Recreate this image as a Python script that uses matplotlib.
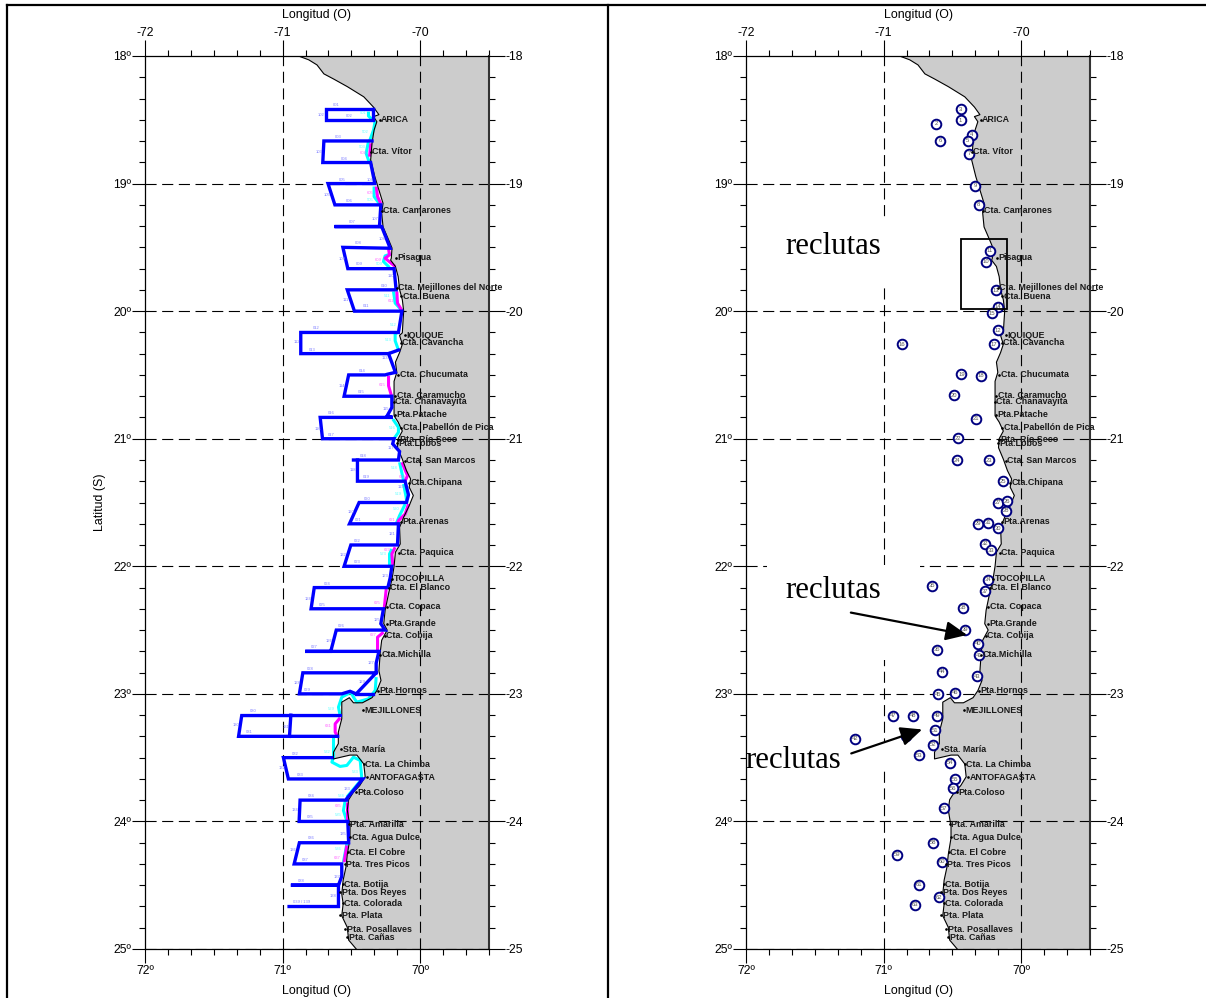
#!/usr/bin/env python3
"""Two map panels of the northern Chilean coast: survey transects and recruit stations."""
import numpy as np
import matplotlib
matplotlib.use('Agg')
import matplotlib.pyplot as plt
from matplotlib.lines import Line2D
from matplotlib.patches import Rectangle

plt.rcParams['font.family'] = ['Liberation Sans', 'DejaVu Sans']

COAST = [
    (-70.885, 18.0), (-70.81, 18.03), (-70.75, 18.07), (-70.70, 18.14), (-70.63, 18.18), (-70.53, 18.24),
    (-70.41, 18.32), (-70.34, 18.40), (-70.30, 18.46), (-70.34, 18.475), (-70.315, 18.515), (-70.335, 18.58),
    (-70.35, 18.68), (-70.36, 18.815), (-70.33, 18.945), (-70.30, 19.05), (-70.27, 19.155), (-70.28, 19.23),
    (-70.27, 19.34), (-70.23, 19.44), (-70.205, 19.505), (-70.21, 19.585), (-70.215, 19.60), (-70.18, 19.65),
    (-70.16, 19.73), (-70.15, 19.83), (-70.13, 19.91), (-70.12, 20.00), (-70.125, 20.08), (-70.13, 20.17),
    (-70.15, 20.19), (-70.13, 20.26), (-70.15, 20.325), (-70.18, 20.40), (-70.17, 20.48), (-70.19, 20.55),
    (-70.19, 20.65), (-70.19, 20.755), (-70.19, 20.82), (-70.16, 20.87), (-70.13, 20.94), (-70.16, 21.0),
    (-70.165, 21.07), (-70.13, 21.16), (-70.10, 21.25), (-70.07, 21.315), (-70.08, 21.38), (-70.05, 21.445),
    (-70.08, 21.525), (-70.12, 21.615), (-70.15, 21.695), (-70.145, 21.825), (-70.18, 21.89), (-70.19, 22.0),
    (-70.205, 22.10), (-70.23, 22.215), (-70.255, 22.345), (-70.265, 22.45), (-70.24, 22.50), (-70.28, 22.58),
    (-70.29, 22.67), (-70.30, 22.82), (-70.285, 22.895), (-70.315, 22.975), (-70.35, 23.03), (-70.42, 23.07),
    (-70.485, 23.07), (-70.515, 23.03), (-70.57, 23.065), (-70.57, 23.195), (-70.595, 23.30), (-70.595, 23.39),
    (-70.63, 23.457), (-70.63, 23.51), (-70.51, 23.48), (-70.46, 23.48), (-70.41, 23.55), (-70.40, 23.65),
    (-70.44, 23.72), (-70.485, 23.77), (-70.52, 23.83), (-70.53, 23.91), (-70.51, 24.04), (-70.51, 24.13),
    (-70.53, 24.26), (-70.54, 24.36), (-70.56, 24.46), (-70.57, 24.57), (-70.56, 24.645), (-70.57, 24.74),
    (-70.53, 24.83), (-70.52, 24.93), (-70.465, 25.0),
]

BLUE_TRACKS = [
    [(-70.34, 18.415), (-70.686, 18.415), (-70.686, 18.505), (-70.34, 18.505), (-70.34, 18.415)],
    [(-70.35, 18.666), (-70.70, 18.666), (-70.708, 18.835), (-70.36, 18.835), (-70.33, 19.0), (-70.67, 19.0),
     (-70.62, 19.167), (-70.286, 19.167), (-70.296, 19.337), (-70.623, 19.337), (-70.28, 19.337), (-70.218, 19.507),
     (-70.562, 19.50), (-70.526, 19.667), (-70.19, 19.667), (-70.175, 19.833), (-70.53, 19.833), (-70.478, 20.0),
     (-70.133, 20.0), (-70.158, 20.167), (-70.868, 20.167), (-70.868, 20.333), (-70.23, 20.333), (-70.158, 20.305)],
    [(-70.23, 20.333), (-70.18, 20.48), (-70.24, 20.495), (-70.255, 20.5), (-70.52, 20.5), (-70.553, 20.667),
     (-70.206, 20.667), (-70.206, 20.755), (-70.24, 20.82), (-70.20, 20.833), (-70.727, 20.833), (-70.71, 21.0),
     (-70.19, 21.0), (-70.20, 21.04), (-70.15, 21.10), (-70.158, 21.167), (-70.485, 21.167)],
    [(-70.456, 21.167), (-70.456, 21.333), (-70.11, 21.333), (-70.085, 21.44), (-70.10, 21.5), (-70.444, 21.5),
     (-70.514, 21.667), (-70.158, 21.667), (-70.165, 21.833), (-70.504, 21.833), (-70.553, 22.0), (-70.206, 22.0),
     (-70.218, 22.09), (-70.235, 22.167), (-70.77, 22.167), (-70.793, 22.333), (-70.267, 22.333), (-70.286, 22.45),
     (-70.255, 22.5), (-70.61, 22.5), (-70.65, 22.667), (-70.836, 22.667), (-70.30, 22.667), (-70.32, 22.76),
     (-70.32, 22.835), (-70.853, 22.835), (-70.878, 23.0), (-70.57, 23.0), (-70.51, 22.98), (-70.465, 23.0),
     (-70.32, 22.835)],
    [(-70.465, 23.0), (-70.34, 23.0)],
    [(-70.58, 23.17), (-71.297, 23.17), (-71.32, 23.333), (-70.6, 23.333)],
    [(-70.94, 23.167), (-70.95, 23.333)],
    [(-70.642, 23.5), (-70.994, 23.5), (-70.958, 23.667), (-70.417, 23.667), (-70.533, 23.82), (-70.533, 23.833),
     (-70.873, 23.833), (-70.88, 24.0), (-70.526, 24.0), (-70.52, 24.167), (-70.878, 24.167), (-70.916, 24.333),
     (-70.57, 24.333), (-70.57, 24.43), (-70.594, 24.5), (-70.94, 24.5), (-70.594, 24.5), (-70.594, 24.667),
     (-70.953, 24.667)],
]

CYAN_TRACKS = [
    [(-70.376, 18.436), (-70.376, 18.47), (-70.352, 18.496)],
    [(-70.327, 18.507), (-70.339, 18.58), (-70.368, 18.666)],
    [(-70.376, 18.671), (-70.393, 18.762), (-70.376, 18.815), (-70.36, 18.835)],
    [(-70.335, 19.023), (-70.335, 19.102), (-70.296, 19.159)],
    [(-70.213, 19.551), (-70.255, 19.567), (-70.267, 19.611), (-70.223, 19.658)],
    [(-70.194, 19.846), (-70.182, 19.937), (-70.133, 19.995)],
    [(-70.165, 20.167), (-70.182, 20.18), (-70.182, 20.232), (-70.158, 20.305)],
    [(-70.199, 20.846), (-70.158, 20.911), (-70.158, 20.95), (-70.194, 21.005)],
    [(-70.15, 21.185), (-70.121, 21.329)],
    [(-70.121, 21.355), (-70.102, 21.46), (-70.097, 21.507)],
    [(-70.109, 21.512), (-70.15, 21.603), (-70.175, 21.668)],
    [(-70.206, 21.864), (-70.223, 21.903), (-70.223, 21.995)],
    [(-70.32, 22.869), (-70.327, 22.974), (-70.376, 23.039), (-70.461, 23.065), (-70.485, 23.026), (-70.504, 22.987),
     (-70.57, 23.026), (-70.594, 23.104), (-70.582, 23.17)],
    [(-70.63, 23.345), (-70.63, 23.496), (-70.642, 23.535), (-70.582, 23.569), (-70.533, 23.561), (-70.485, 23.496),
     (-70.436, 23.522), (-70.424, 23.668), (-70.533, 23.809)],
    [(-70.545, 23.835), (-70.558, 23.914), (-70.533, 23.997)],
    [(-70.533, 24.175), (-70.558, 24.319)],
]

MAGENTA_TRACKS = [
    [(-70.359, 18.684), (-70.368, 18.789)],
    [(-70.32, 19.023), (-70.31, 19.102), (-70.286, 19.159)],
    [(-70.23, 19.514), (-70.223, 19.559), (-70.255, 19.585), (-70.182, 19.65)],
    [(-70.17, 19.846), (-70.165, 19.937), (-70.133, 19.995)],
    [(-70.23, 20.507), (-70.23, 20.585), (-70.206, 20.674)],
    [(-70.133, 21.185), (-70.092, 21.29), (-70.114, 21.342)],
    [(-70.085, 21.512), (-70.109, 21.59), (-70.158, 21.642), (-70.165, 21.668)],
    [(-70.182, 21.851), (-70.206, 21.903), (-70.199, 21.995)],
    [(-70.247, 22.178), (-70.262, 22.335)],
    [(-70.267, 22.517), (-70.31, 22.556), (-70.31, 22.661)],
    [(-70.582, 23.188), (-70.618, 23.235), (-70.618, 23.30), (-70.601, 23.334)],
    [(-70.533, 23.849), (-70.533, 23.992)],
    [(-70.533, 24.188), (-70.553, 24.319)],
]

TRANSECT_LABELS = [
    ('001', -70.613, 18.381), ('002', -70.516, 18.467), ('003', -70.592, 18.632), ('004', -70.555, 18.804),
    ('005', -70.57, 18.969), ('006', -70.516, 19.133), ('007', -70.495, 19.298), ('008', -70.451, 19.462),
    ('009', -70.446, 19.634), ('010', -70.26, 19.799), ('011', -70.39, 19.963), ('012', -70.759, 20.133),
    ('013', -70.781, 20.308), ('014', -70.422, 20.473), ('015', -70.432, 20.637), ('016', -70.645, 20.802),
    ('017', -70.645, 20.974), ('018', -70.415, 21.138), ('019', -70.393, 21.303), ('020', -70.388, 21.475),
    ('021', -70.448, 21.64), ('022', -70.461, 21.804), ('023', -70.458, 21.969), ('024', -70.672, 22.141),
    ('025', -70.71, 22.305), ('026', -70.572, 22.47), ('027', -70.771, 22.634), ('028', -70.798, 22.807),
    ('029', -70.824, 22.971), ('030', -71.21, 23.136), ('031', -71.239, 23.30), ('032', -70.909, 23.473),
    ('033', -70.875, 23.637), ('034', -70.793, 23.802), ('035', -70.8, 23.966), ('036', -70.793, 24.131),
    ('037', -70.832, 24.303), ('038', -70.863, 24.467), ('039 / 139', -70.861, 24.632),
    ('102', -70.72, 18.46), ('103', -70.735, 18.749), ('104', -70.364, 18.969), ('105', -70.679, 19.086),
    ('107', -70.327, 19.274), ('108', -70.279, 19.431), ('109', -70.57, 19.595), ('110', -70.213, 19.728),
    ('111', -70.538, 19.909), ('112', -70.897, 20.238), ('113', -70.259, 20.368), ('114', -70.567, 20.59),
    ('115', -70.25, 20.77), ('116', -70.744, 20.922), ('117', -70.211, 21.076), ('118', -70.487, 21.248),
    ('119', -70.138, 21.379), ('120', -70.504, 21.577), ('121', -70.206, 21.747), ('122', -70.558, 21.914),
    ('123', -70.255, 22.078), ('124', -70.812, 22.256), ('125', -70.315, 22.42), ('126', -70.659, 22.582),
    ('127', -70.356, 22.76), ('128', -70.897, 22.916), ('129', -70.424, 22.909), ('130', -71.341, 23.243),
    ('131', -70.977, 23.258), ('132', -71.006, 23.582), ('133', -70.533, 23.747), ('134', -70.909, 23.911),
    ('135', -70.558, 24.097), ('136', -70.926, 24.222), ('137', -70.606, 24.436), ('138', -70.63, 24.585),
]

CYAN_LABELS = [
    ('501', -70.417, 18.449), ('502', -70.4, 18.593), ('503', -70.424, 18.715), ('505', -70.364, 19.128),
    ('509', -70.296, 19.634), ('511', -70.242, 19.885), ('512', -70.199, 20.112), ('513', -70.23, 20.227),
    ('516', -70.206, 20.919), ('518', -70.187, 21.23), ('519', -70.158, 21.436), ('520', -70.175, 21.551),
    ('523', -70.272, 21.903), ('529', -70.647, 23.12), ('532', -70.674, 23.457), ('533', -70.473, 23.614),
    ('534', -70.577, 23.802), ('535', -70.594, 23.95), ('536', -70.594, 24.214),
]

MAGENTA_LABELS = [
    ('603', -70.412, 18.757), ('605', -70.364, 19.07), ('609', -70.303, 19.603), ('611', -70.211, 19.924),
    ('615', -70.274, 20.582), ('619', -70.133, 21.303), ('621', -70.206, 21.634), ('623', -70.242, 21.872),
    ('625', -70.31, 22.287), ('627', -70.344, 22.538), ('631', -70.667, 23.253), ('635', -70.594, 23.88),
    ('637', -70.601, 24.287),
]

PLACES = [
    ('ARICA', -70.284, 18.5), ('Cta. Vítor', -70.347, 18.75), ('Cta. Camarones', -70.267, 19.214),
    ('Pisagua', -70.165, 19.582), ('Cta. Mejillones del Norte', -70.158, 19.817), ('Cta. Buena', -70.126, 19.885),
    ('IQUIQUE', -70.10, 20.19), ('Cta. Cavancha', -70.133, 20.248), ('Cta. Chucumata', -70.15, 20.499),
    ('Cta. Caramucho', -70.17, 20.663), ('Cta. Chanavayita', -70.18, 20.71), ('Pta.Patache', -70.17, 20.812),
    ('Cta. Pabellón de Pica', -70.126, 20.914), ('Pta. Río Seco', -70.15, 21.008), ('Pta.Lobos', -70.158, 21.034),
    ('Cta. San Marcos', -70.10, 21.172), ('Cta.Chipana', -70.073, 21.345), ('Pta.Arenas', -70.133, 21.65),
    ('Cta. Paquica', -70.145, 21.893), ('TOCOPILLA', -70.194, 22.097), ('Cta. El Blanco', -70.218, 22.167),
    ('Cta. Copaca', -70.23, 22.316), ('Pta.Grande', -70.228, 22.449), ('Cta. Cobija', -70.247, 22.543),
    ('Cta.Michilla', -70.279, 22.692), ('Pta.Hornos', -70.296, 22.974), ('MEJILLONES', -70.407, 23.13),
    ('Sta. María', -70.562, 23.436), ('Cta. La Chimba', -70.40, 23.553), ('ANTOFAGASTA', -70.376, 23.655),
    ('Pta.Coloso', -70.456, 23.773), ('Pta. Amarilla', -70.51, 24.024), ('Cta. Agua Dulce', -70.497, 24.125),
    ('Cta. El Cobre', -70.514, 24.243), ('Pta. Tres Picos', -70.538, 24.337), ('Cta. Botija', -70.553, 24.493),
    ('Pta. Dos Reyes', -70.57, 24.556), ('Cta. Colorada', -70.553, 24.642), ('Pta. Plata', -70.57, 24.736),
    ('Pta. Posallaves', -70.533, 24.846), ('Pta. Cañas', -70.52, 24.909),
]

STATIONS = [
    ('1', -70.44, 18.504), ('2', -70.62, 18.53), ('3', -70.44, 18.418), ('4', -70.36, 18.619),
    ('5', -70.388, 18.666), ('6', -70.587, 18.666), ('7', -70.376, 18.765), ('9', -70.333, 19.018),
    ('8', -70.31, 19.167), ('11', -70.23, 19.527), ('10', -70.257, 19.611), ('13', -70.184, 19.838),
    ('14', -70.17, 19.966), ('15', -70.21, 20.018), ('12', -70.167, 20.149), ('17', -70.20, 20.261),
    ('16', -70.867, 20.261), ('19', -70.434, 20.496), ('18', -70.294, 20.507), ('20', -70.49, 20.658),
    ('21', -70.328, 20.843), ('22', -70.456, 20.997), ('24', -70.468, 21.17), ('23', -70.235, 21.17),
    ('25', -70.129, 21.334), ('27', -70.172, 21.501), ('26', -70.10, 21.49), ('28', -70.112, 21.564),
    ('29', -70.316, 21.668), ('31', -70.243, 21.66), ('30', -70.17, 21.702), ('32', -70.262, 21.822),
    ('33', -70.216, 21.875), ('34', -70.238, 22.104), ('35', -70.65, 22.151), ('37', -70.26, 22.196),
    ('38', -70.422, 22.326), ('39', -70.405, 22.496), ('40', -70.316, 22.608), ('41', -70.306, 22.697),
    ('36', -70.61, 22.655), ('44', -70.578, 22.828), ('43', -70.32, 22.861), ('45', -70.604, 23.005),
    ('46', -70.478, 22.992), ('47', -70.93, 23.17), ('48', -70.789, 23.172), ('49', -70.612, 23.17),
    ('51', -70.624, 23.287), ('50', -70.835, 23.329), ('42', -71.206, 23.352), ('52', -70.64, 23.397),
    ('53', -70.745, 23.483), ('54', -70.52, 23.54), ('55', -70.478, 23.668), ('56', -70.495, 23.739),
    ('57', -70.558, 23.896), ('58', -70.643, 24.167), ('59', -70.90, 24.261), ('60', -70.578, 24.316),
    ('61', -70.743, 24.496), ('62', -70.595, 24.593), ('63', -70.772, 24.655),
]

BOX_LON = [-70.44, -70.10]
BOX_LAT = [19.433, 19.984]

RECLUTAS = [(-71.716, 19.496), (-71.716, 22.193), (-72.007, 23.52)]
# white patches that hide the grid behind the pasted labels: lon0, lon1, lat0, lat1
RECLUTAS_MASKS = [
    (-71.825, -70.88, 19.262, 19.78),
    (-71.847, -70.735, 21.99, 22.733),
    (-71.985, -70.953, 23.376, 23.596),
]
ARROWS = [((-71.238, 22.363), (-70.393, 22.538)), ((-71.235, 23.467), (-70.72, 23.279))]

LON_MAJOR = [-72, -71, -70]
LAT_MAJOR = [18, 19, 20, 21, 22, 23, 24, 25]
LON_LIM = (-72, -69.5)
LAT_LIM = (25, 18)

W, H = 1206, 998
PANELS = [(145, 489), (746, 1090)]
TOP_PX, BOTTOM_PX = 56, 949


def setup_axes(fig, x0, x1):
    ax = fig.add_axes([x0 / W, 1 - BOTTOM_PX / H, (x1 - x0) / W, (BOTTOM_PX - TOP_PX) / H])
    ax.set_xlim(*LON_LIM)
    ax.set_ylim(*LAT_LIM)
    ax.set_xticks(LON_MAJOR)
    ax.set_xticklabels([f"{-v}º" for v in LON_MAJOR])
    ax.set_yticks(LAT_MAJOR)
    ax.set_yticklabels([f"{v}º" for v in LAT_MAJOR])
    ax.set_xticks(np.arange(-72, -69.49, 1 / 6), minor=True)
    ax.set_yticks(np.arange(18, 25.01, 1 / 6), minor=True)
    ax.tick_params(axis='x', which='major', length=10, width=0.8, labelsize=8.8, pad=1.5)
    ax.tick_params(axis='y', which='major', length=9.4, width=0.8, labelsize=8.8, pad=0.5)
    ax.tick_params(which='minor', length=4.3, width=0.8, top=True, right=True)
    ax.set_xlabel('Longitud (O)', fontsize=8.9, labelpad=6)
    for s in ax.spines.values():
        s.set_linewidth(0.9)
    ax.spines['right'].set_linewidth(1.5)
    ax.spines['right'].set_color('#333333')

    top = ax.secondary_xaxis('top')
    top.set_xticks(LON_MAJOR)
    top.set_xticklabels([str(v) for v in LON_MAJOR])
    top.tick_params(length=11.5, width=0.8, labelsize=8.8, pad=0.5)
    top.set_xlabel('Longitud (O)', fontsize=8.9, labelpad=7)
    top.spines['top'].set_visible(False)

    right = ax.secondary_yaxis('right')
    right.set_yticks(LAT_MAJOR)
    right.set_yticklabels([f"-{v}" for v in LAT_MAJOR])
    right.tick_params(length=11.5, width=0.8, labelsize=8.8, pad=0.5)
    right.spines['right'].set_visible(False)
    return ax


def draw_base(ax):
    lons = [p[0] for p in COAST]
    lats = [p[1] for p in COAST]
    ax.fill(lons + [-69.5, -69.5], lats + [25, 18], color='#cccccc', lw=0, zorder=1)
    dash = (0, (10, 5))
    for v in LON_MAJOR[1:]:
        ax.plot([v, v], LAT_LIM, color='black', lw=0.8, ls=dash, zorder=2)
    for v in LAT_MAJOR[1:]:
        ax.plot(LON_LIM, [v, v], color='black', lw=0.8, ls=dash, zorder=2)


def draw_coast_and_names(ax):
    ax.plot([p[0] for p in COAST], [p[1] for p in COAST], color='black', lw=0.8, zorder=5)
    for name, lon, lat in PLACES:
        ax.plot([lon - 0.01], [lat], marker='o', ms=0.9, color='black', zorder=8)
        ax.text(lon, lat, name, fontsize=6.4, fontweight='bold', ha='left', va='center', color='#1a1a1a',
                clip_on=False, zorder=9)


def draw_tracks(ax):
    for seg in CYAN_TRACKS:
        ax.plot([p[0] for p in seg], [p[1] for p in seg], color='#00ffff', lw=2.2, zorder=4, solid_capstyle='butt')
    for seg in MAGENTA_TRACKS:
        ax.plot([p[0] for p in seg], [p[1] for p in seg], color='#ff00ff', lw=2.2, zorder=4, solid_capstyle='butt')
    for seg in BLUE_TRACKS:
        ax.plot([p[0] for p in seg], [p[1] for p in seg], color='#0000ff', lw=2.4, zorder=6, solid_joinstyle='miter')
    for labels, col in ((TRANSECT_LABELS, '#8080ff'), (CYAN_LABELS, '#66ffff'), (MAGENTA_LABELS, '#ff66ff')):
        for txt, lon, lat in labels:
            ax.text(lon, lat, txt, fontsize=3, color=col, ha='center', va='center', zorder=7)


def draw_stations(ax):
    for lon0, lon1, lat0, lat1 in RECLUTAS_MASKS:
        ax.add_patch(Rectangle((lon0, lat0), lon1 - lon0, lat1 - lat0, fc='white', ec='none', zorder=3))
    lons = [s[1] for s in STATIONS]
    lats = [s[2] for s in STATIONS]
    ax.scatter(lons, lats, s=48, fc='white', ec='#000080', lw=1.4, zorder=6)
    for txt, lon, lat in STATIONS:
        ax.text(lon, lat, txt, fontsize=4.2, color='#555555', ha='center', va='center', zorder=7)
    ax.add_patch(Rectangle((BOX_LON[0], BOX_LAT[0]), BOX_LON[1] - BOX_LON[0], BOX_LAT[1] - BOX_LAT[0],
                           fc='none', ec='black', lw=1.3, zorder=7))
    for lon, lat in RECLUTAS:
        ax.text(lon, lat, 'reclutas', family='Liberation Serif', fontsize=22.2, ha='left', va='center',
                color='black', clip_on=False, zorder=10)
    for tail, head in ARROWS:
        ax.annotate('', xy=head, xytext=tail, zorder=10,
                    arrowprops=dict(arrowstyle='-|>,head_length=1.0,head_width=0.45', color='black', lw=1.6,
                                    shrinkA=0, shrinkB=0, mutation_scale=13))


def main():
    fig = plt.figure(figsize=(W / 100, H / 100), dpi=100)
    left = setup_axes(fig, *PANELS[0])
    left.set_ylabel('Latitud (S)', fontsize=8.9, labelpad=5)
    right = setup_axes(fig, *PANELS[1])
    draw_base(left)
    draw_base(right)
    draw_tracks(left)
    draw_stations(right)
    draw_coast_and_names(left)
    draw_coast_and_names(right)
    # page frame of the original document
    for xs, ys in (((7, 1206), (5, 5)), ((7, 7), (5, 998)), ((608, 608), (5, 998))):
        fig.add_artist(Line2D([x / W for x in xs], [1 - y / H for y in ys], color='black', lw=1.6))
    fig.savefig('out.png', dpi=100)
    plt.close(fig)


if __name__ == '__main__':
    main()
